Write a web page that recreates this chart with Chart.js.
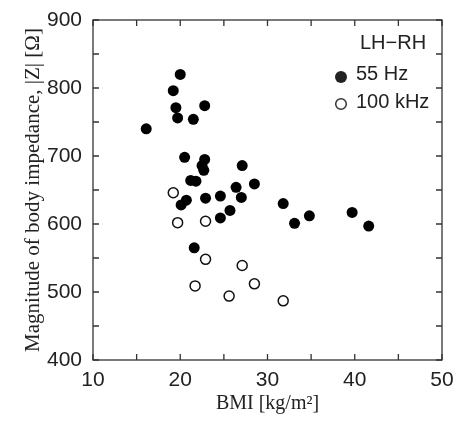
<!DOCTYPE html>
<html>
<head>
<meta charset="utf-8">
<script src="https://cdn.jsdelivr.net/npm/chart.js@4.4.0/dist/chart.umd.min.js"></script>
<style>
  html, body { margin: 0; padding: 0; background: #fff; }
  #wrap { width: 457px; height: 424px; }
</style>
</head>
<body>
<div id="wrap"><canvas id="c" width="457" height="424"></canvas></div>
<script>
// 55 Hz (filled circles)
const hz55Bmi = [20.0, 19.2, 19.5, 19.7, 21.5, 22.8, 16.1, 20.5, 22.8, 22.5, 22.7, 27.1, 21.2, 21.8, 28.5,
                 26.4, 24.6, 22.9, 27.0, 20.7, 20.1, 25.7, 24.6, 21.6, 31.8, 33.1, 34.8, 39.7, 41.6];
const hz55Z   = [820, 796, 771, 756, 754, 774, 740, 698, 695, 686, 679, 686, 664, 663, 659,
                 654, 641, 638, 639, 635, 628, 620, 609, 565, 630, 601, 612, 617, 597];
// 100 kHz (open circles)
const khz100Bmi = [19.2, 19.7, 22.9, 22.9, 27.1, 21.7, 28.5, 25.6, 31.8];
const khz100Z   = [646, 602, 604, 548, 539, 509, 512, 494, 487];

const xTicks = [10, 20, 30, 40, 50];
const yTicks = [400, 500, 600, 700, 800, 900];

const toPoints = (xs, ys) => xs.map((v, i) => ({ x: v, y: ys[i] }));

const frameTicks = {
  id: 'frameTicks',
  afterDraw(chart) {
    const { ctx, chartArea: a, scales: { x, y } } = chart;
    ctx.save();
    ctx.strokeStyle = '#333';
    ctx.lineWidth = 1.3;
    ctx.strokeRect(a.left, a.top, a.right - a.left, a.bottom - a.top);
    ctx.beginPath();
    const len = 6;
    x.ticks.forEach(t => {
      const px = x.getPixelForValue(t.value);
      ctx.moveTo(px, a.bottom); ctx.lineTo(px, a.bottom - len);
      ctx.moveTo(px, a.top); ctx.lineTo(px, a.top + len);
    });
    y.ticks.forEach(t => {
      const py = y.getPixelForValue(t.value);
      ctx.moveTo(a.left, py); ctx.lineTo(a.left + len, py);
      ctx.moveTo(a.right, py); ctx.lineTo(a.right - len, py);
    });
    ctx.stroke();

    // legend box in upper right
    ctx.fillStyle = '#222';
    ctx.font = '20px "Liberation Sans", Arial, sans-serif';
    ctx.textBaseline = 'middle';
    ctx.textAlign = 'left';
    ctx.fillText('LH\u2212RH', a.right - 82, a.top + 23);
    ctx.fillText('55 Hz', a.right - 86, a.top + 54);
    ctx.fillText('100 kHz', a.right - 86, a.top + 82);
    ctx.beginPath();
    ctx.arc(a.right - 101, a.top + 57, 6, 0, Math.PI * 2);
    ctx.fill();
    ctx.beginPath();
    ctx.lineWidth = 1.5;
    ctx.arc(a.right - 101, a.top + 84, 5.3, 0, Math.PI * 2);
    ctx.stroke();
    ctx.restore();
  }
};

new Chart(document.getElementById('c').getContext('2d'), {
  type: 'scatter',
  data: {
    datasets: [{
      label: '100 kHz',
      data: toPoints(khz100Bmi, khz100Z),
      pointRadius: 5,
      pointBorderWidth: 1.5,
      pointBorderColor: '#111',
      pointBackgroundColor: '#fff'
    }, {
      label: '55 Hz',
      data: toPoints(hz55Bmi, hz55Z),
      pointRadius: 5.5,
      pointBorderWidth: 0,
      pointBorderColor: '#000',
      pointBackgroundColor: '#000'
    }]
  },
  options: {
    responsive: false,
    animation: false,
    layout: { padding: { top: 20, right: 15, left: 0, bottom: 0 } },
    plugins: {
      legend: { display: false },
      tooltip: { enabled: false }
    },
    scales: {
      x: {
        type: 'linear',
        min: 10, max: 50,
        afterFit: s => { s.height = 64; s.paddingLeft = 0; s.paddingRight = 0; },
        grid: { display: false, drawTicks: false },
        border: { display: false },
        ticks: {
          stepSize: 5,
          padding: 8,
          color: '#222',
          font: { family: '"Liberation Sans", Arial, sans-serif', size: 21 },
          callback: v => xTicks.includes(v) ? String(v) : ''
        },
        title: {
          display: true,
          text: 'BMI [kg/m\u00b2]',
          color: '#222',
          font: { family: '"Liberation Serif", "Times New Roman", serif', size: 20 },
          padding: { top: 0, bottom: 8 }
        }
      },
      y: {
        type: 'linear',
        min: 400, max: 900,
        afterFit: s => { s.width = 93; s.paddingTop = 0; s.paddingBottom = 0; },
        grid: { display: false, drawTicks: false },
        border: { display: false },
        ticks: {
          stepSize: 50,
          padding: 11,
          color: '#222',
          font: { family: '"Liberation Sans", Arial, sans-serif', size: 21 },
          callback: v => yTicks.includes(v) ? String(v) : ''
        },
        title: {
          display: true,
          text: 'Magnitude of body impedance, |Z| [\u03a9]',
          color: '#222',
          font: { family: '"Liberation Serif", "Times New Roman", serif', size: 21 },
          padding: { top: 21, bottom: 0 }
        }
      }
    }
  },
  plugins: [frameTicks]
});
</script>
</body>
</html>
